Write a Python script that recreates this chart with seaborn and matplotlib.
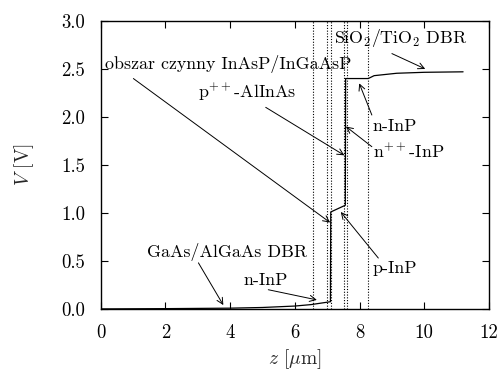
import matplotlib
matplotlib.use("Agg")
import matplotlib.pyplot as plt
import seaborn as sns
import pandas as pd

# Potential profile along the structure
z_um = [0.0, 2.0, 4.0, 5.0, 6.0, 6.5, 6.8, 7.0, 7.1, 7.11, 7.56, 7.57, 8.27, 8.45, 9.15, 10.0, 11.2]
v_volt = [0.0, 0.003, 0.008, 0.015, 0.03, 0.045, 0.06, 0.07, 0.075, 1.01, 1.08, 2.40, 2.40, 2.43, 2.455, 2.465, 2.47]

# Layer interfaces
interfaces = [6.55, 7.0, 7.11, 7.53, 7.6, 8.27]

# Labels: text, text position, arrow tail, arrow tip
labels = [r"obszar czynny InAsP/InGaAsP", r"p$^{++}$-AlInAs", r"SiO$_2$/TiO$_2$ DBR",
          r"n-InP", r"n$^{++}$-InP", r"p-InP", r"GaAs/AlGaAs DBR", r"n-InP"]
label_pos = [(0.13, 2.50), (3.02, 2.195), (7.22, 2.77), (8.41, 1.85), (8.41, 1.57),
             (8.41, 0.37), (1.42, 0.545), (4.41, 0.25)]
arrow_from = [(1.01, 2.40), (5.1, 2.10), (9.0, 2.66), (8.38, 2.02), (8.38, 1.69),
              (8.58, 0.53), (3.02, 0.48), (5.18, 0.20)]
arrow_to = [(7.09, 0.90), (7.53, 1.60), (10.03, 2.50), (7.99, 2.35), (7.58, 1.90),
            (7.42, 1.01), (3.79, 0.04), (6.68, 0.094)]

x_ticks = [0, 2, 4, 6, 8, 10, 12]
y_ticks = [0.0, 0.5, 1.0, 1.5, 2.0, 2.5, 3.0]

sns.set_theme(style="ticks")
plt.rcParams["font.family"] = ["cmr10", "DejaVu Serif"]
plt.rcParams["mathtext.fontset"] = "cm"
plt.rcParams["axes.formatter.use_mathtext"] = True
plt.rcParams["axes.unicode_minus"] = False

fig = plt.figure(figsize=(5.01, 3.74), dpi=100)
ax = fig.add_axes([0.201, 0.174, 0.775, 0.770])

df = pd.DataFrame({"z": z_um, "V": v_volt})
sns.lineplot(data=df, x="z", y="V", estimator=None, sort=False, color="black",
             linewidth=0.9, ax=ax)

for xv in interfaces:
    ax.axvline(xv, color="black", linestyle=(0, (1, 1.5)), linewidth=0.8, zorder=1)

fs = 12.9
for txt, (tx, ty), (ax0, ay0), (ax1, ay1) in zip(labels, label_pos, arrow_from, arrow_to):
    ax.text(tx, ty, txt, fontsize=fs, ha="left", va="baseline", color="black")
    ax.annotate("", xy=(ax1, ay1), xytext=(ax0, ay0),
                arrowprops=dict(arrowstyle="->", color="black", lw=0.7,
                                shrinkA=0, shrinkB=0, mutation_scale=11))

ax.set_xlim(0, 12)
ax.set_ylim(0, 3.0)
ax.set_xticks(x_ticks)
ax.set_xticklabels([str(t) for t in x_ticks])
ax.set_yticks(y_ticks)
ax.set_yticklabels([f"{t:.1f}" for t in y_ticks])
ax.tick_params(direction="in", top=True, right=True, length=5, width=0.8,
               labelsize=13.5, pad=11, colors="black")
for s in ax.spines.values():
    s.set_linewidth(1.0)
    s.set_color("black")

ax.set_xlabel(r"$z$ [$\mu$m]", fontsize=14, labelpad=4)
ax.set_ylabel(r"$V$ [V]", fontsize=14, labelpad=18)

fig.savefig("out.png", dpi=100)
